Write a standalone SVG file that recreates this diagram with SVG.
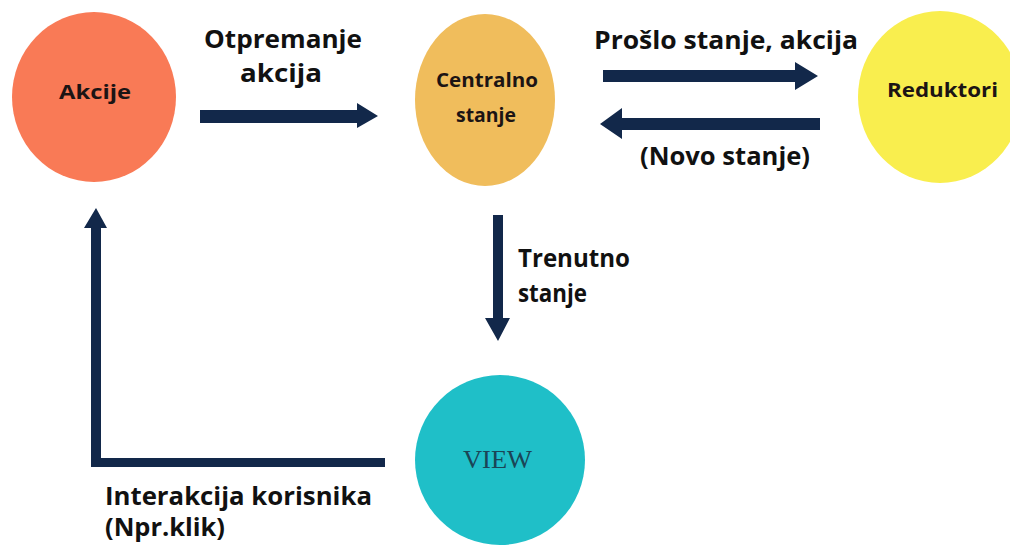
<svg xmlns="http://www.w3.org/2000/svg" width="1010" height="550" viewBox="0 0 1010 550">
<style>
.lbl{font-family:"Open Sans","Liberation Sans",sans-serif;font-weight:bold;font-size:20px;fill:#1c1414;}
.edge{font-family:"Open Sans","Liberation Sans",sans-serif;font-weight:bold;font-size:25px;fill:#111;}
.arr{fill:#12284a;}
</style>
<rect width="1010" height="550" fill="#ffffff"/>
<g id="akcije">
<ellipse cx="94" cy="97" rx="82" ry="85" fill="#f97a56"/>
<text class="lbl" x="59" y="99" textLength="72" lengthAdjust="spacingAndGlyphs">Akcije</text>
</g>
<g id="centralno">
<ellipse cx="485" cy="100" rx="70" ry="86" fill="#f0bd5c"/>
<text class="lbl" x="436" y="87" textLength="102" lengthAdjust="spacingAndGlyphs">Centralno</text>
<text class="lbl" x="456" y="122" textLength="60" lengthAdjust="spacingAndGlyphs">stanje</text>
</g>
<g id="reduktori">
<ellipse cx="940" cy="97" rx="82" ry="86" fill="#f9ee4e"/>
<text class="lbl" x="887" y="97" textLength="111" lengthAdjust="spacingAndGlyphs">Reduktori</text>
</g>
<g id="view">
<circle cx="500" cy="460" r="85" fill="#1fbfc8"/>
<text x="463" y="468" font-family="Liberation Serif,serif" font-size="26" fill="#1a4556" textLength="69" lengthAdjust="spacingAndGlyphs">VIEW</text>
</g>
<g id="connectors">
<polygon class="arr" points="200,110 357,110 357,103 378,116 357,128 357,123 200,123"/>
<polygon class="arr" points="603,70 795,70 795,62 818,76 795,90 795,82 603,82"/>
<polygon class="arr" points="820,118 622,118 622,108 600,124 622,139 622,130 820,130"/>
<polygon class="arr" points="493,215 503,215 503,318 510,318 498,341 485,318 493,318"/>
<polygon class="arr" points="385,458 101,458 101,228 107,228 96,208 84,228 91,228 91,467 385,467"/>
<text class="edge" x="204" y="48" textLength="158" lengthAdjust="spacingAndGlyphs">Otpremanje</text>
<text class="edge" x="240" y="82" textLength="82" lengthAdjust="spacingAndGlyphs">akcija</text>
<text class="edge" x="594" y="49" textLength="264" lengthAdjust="spacingAndGlyphs">Prošlo stanje, akcija</text>
<text class="edge" x="640" y="165" textLength="170" lengthAdjust="spacingAndGlyphs">(Novo stanje)</text>
<text class="edge" x="518" y="267" textLength="112" lengthAdjust="spacingAndGlyphs">Trenutno</text>
<text class="edge" x="518" y="302" textLength="69" lengthAdjust="spacingAndGlyphs">stanje</text>
<text class="edge" x="105" y="505" textLength="267" lengthAdjust="spacingAndGlyphs">Interakcija korisnika</text>
<text class="edge" x="105" y="536" textLength="120" lengthAdjust="spacingAndGlyphs">(Npr.klik)</text>
</g>
</svg>
